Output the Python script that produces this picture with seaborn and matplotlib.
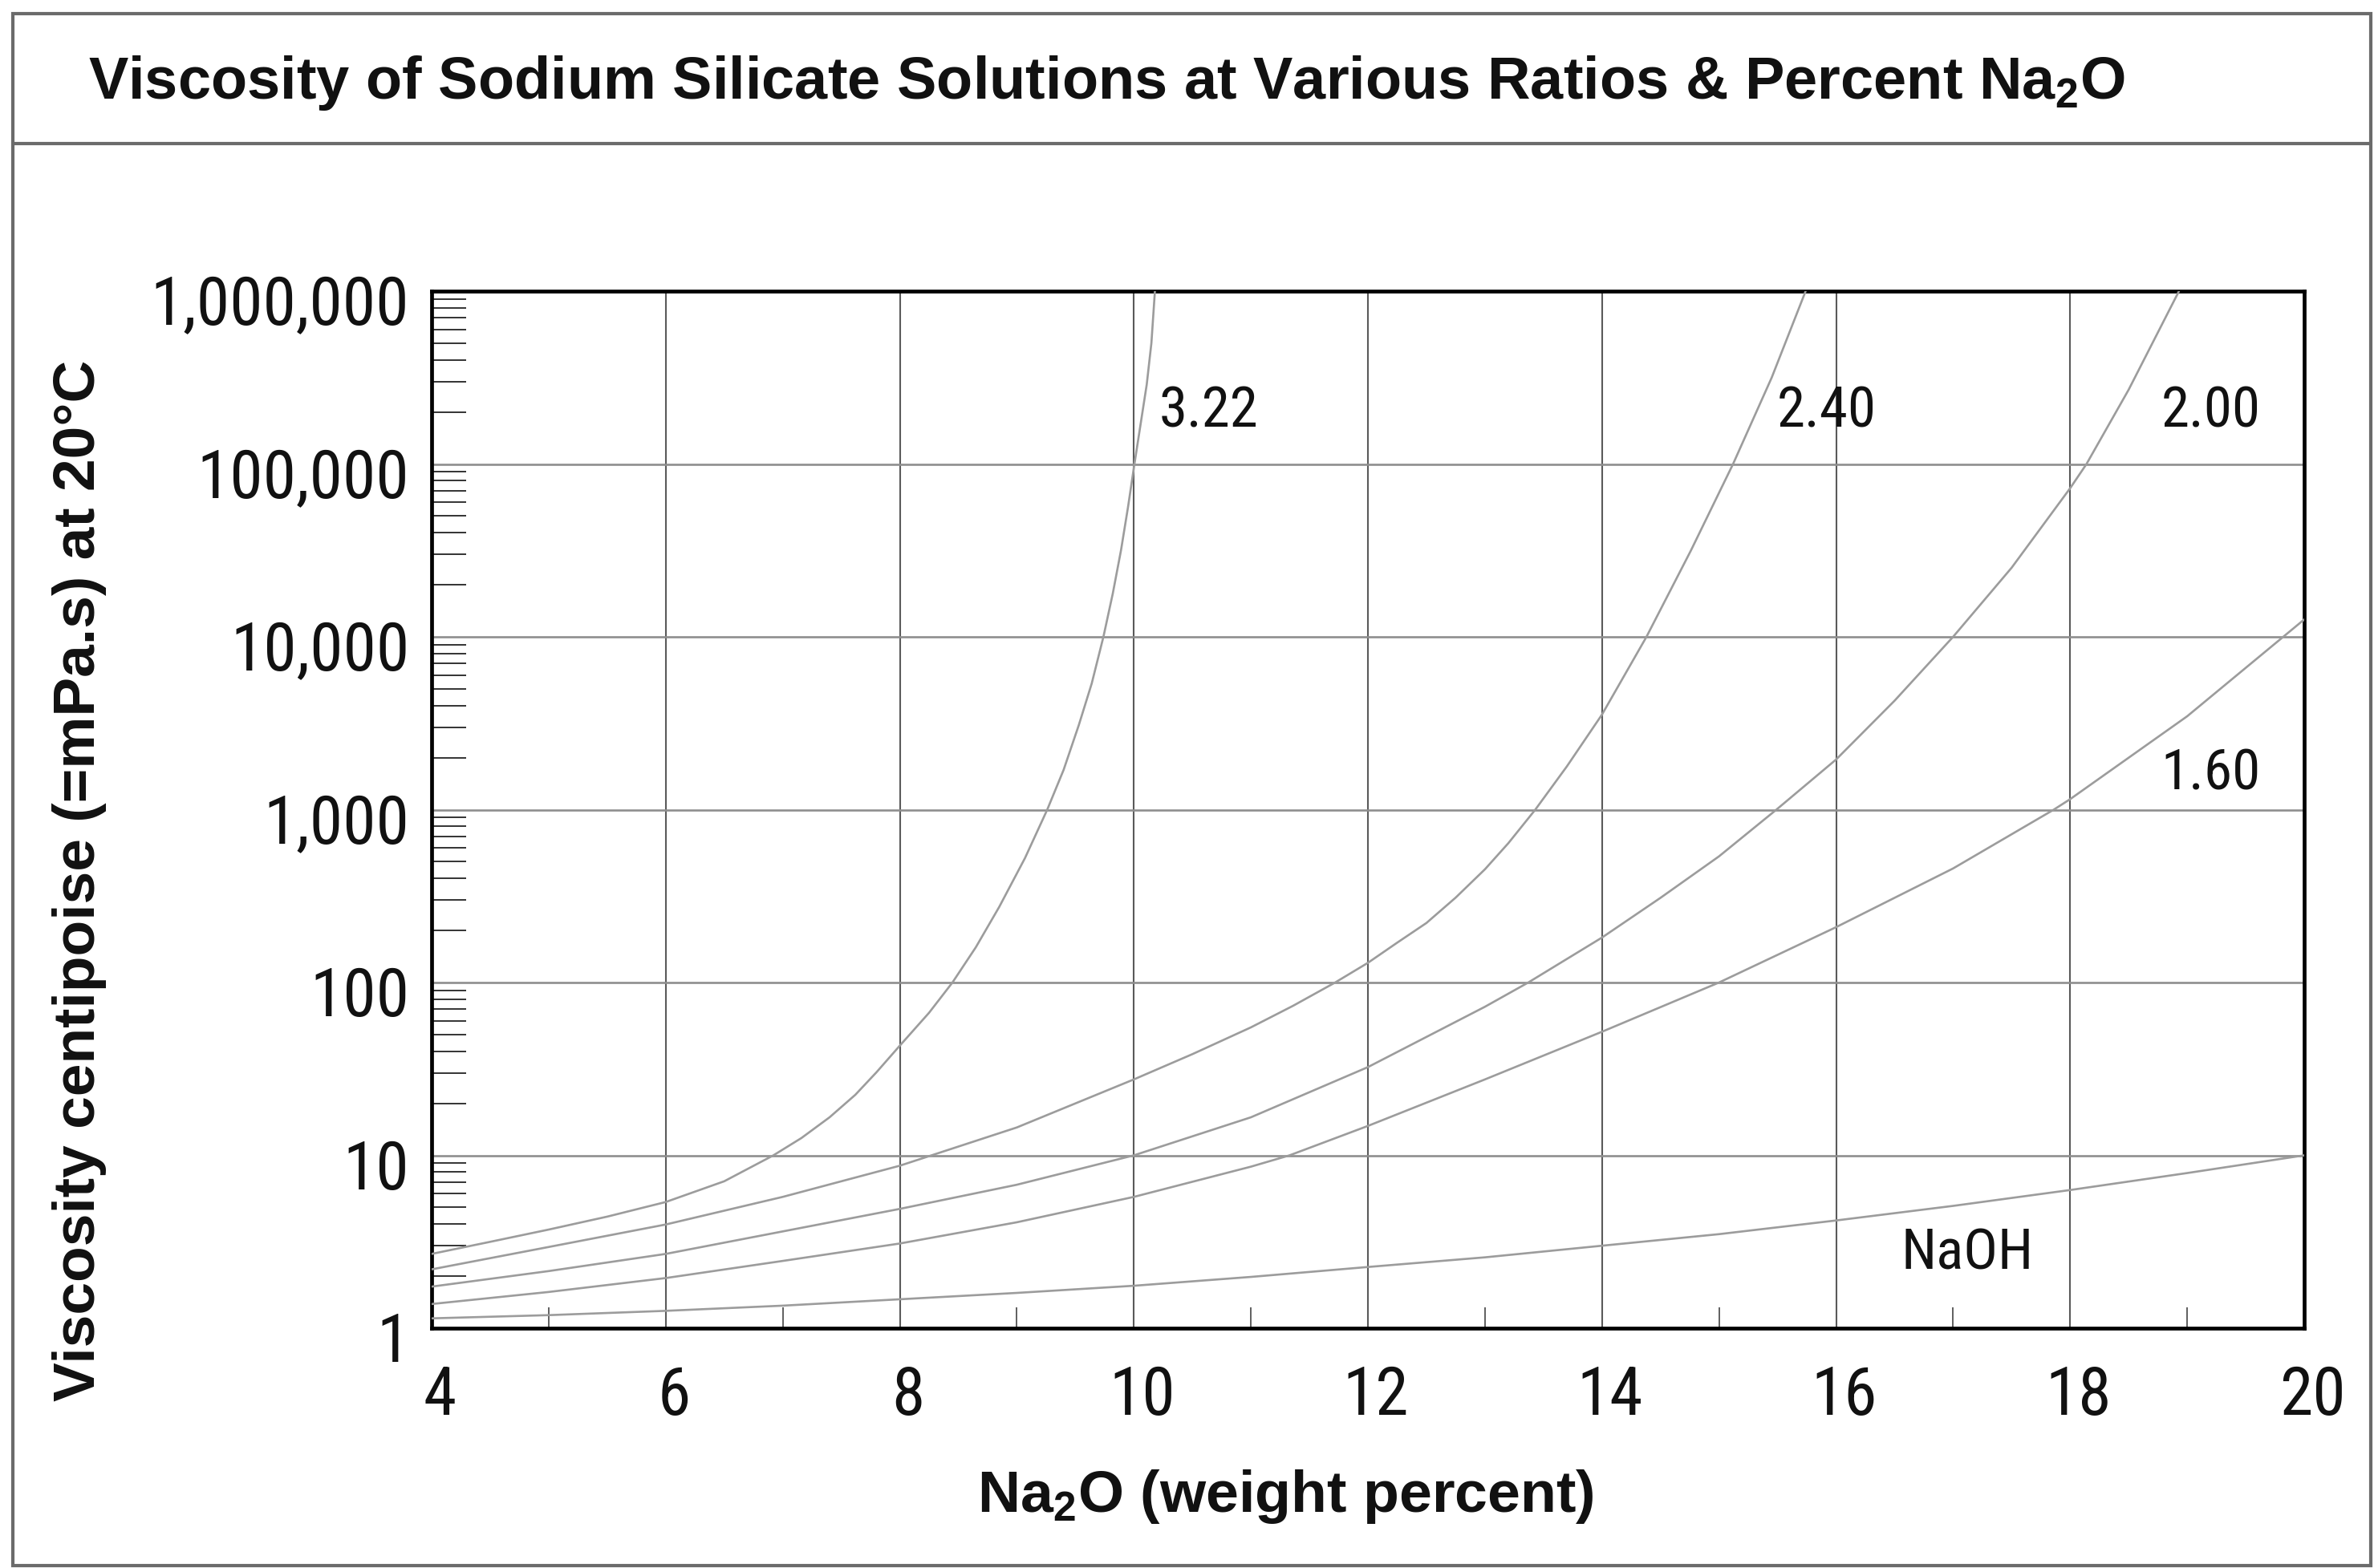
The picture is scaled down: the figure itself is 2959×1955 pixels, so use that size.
import numpy as np
import pandas as pd
import matplotlib
matplotlib.use("Agg")
import matplotlib.pyplot as plt
import matplotlib.transforms as mtransforms
from matplotlib import font_manager as fm
from matplotlib.font_manager import FontProperties
from matplotlib.textpath import TextPath
from matplotlib.ticker import FixedLocator, FixedFormatter, LogLocator, NullFormatter
from matplotlib.patches import Rectangle
from matplotlib.lines import Line2D
import seaborn as sns

# ---------------- data ----------------
x_322 = [4, 4.5, 5, 5.5, 6, 6.5, 6.92, 7.16, 7.4, 7.62, 7.8, 8, 8.25, 8.45, 8.65,
         8.85, 9.07, 9.26, 9.4, 9.53, 9.64, 9.74, 9.82, 9.89, 9.95, 10.005, 10.06,
         10.11, 10.15, 10.18]
v_322 = [2.69, 3.16, 3.72, 4.42, 5.37, 7.08, 10, 12.6, 16.6, 22.4, 30.2, 43.1, 66.8,
         100, 160, 274, 525, 1000, 1700, 3090, 5370, 10000, 17800, 31600, 56200,
         100000, 174000, 288000, 501000, 1000000]

x_240 = [4, 5, 6, 7, 8, 9, 10, 10.5, 11, 11.36, 11.72, 12, 12.25, 12.5, 12.75, 13,
         13.2, 13.43, 13.7, 14, 14.38, 14.76, 15.12, 15.45, 15.74]
v_240 = [2.19, 2.95, 3.98, 5.75, 8.71, 14.5, 27.5, 38.5, 55, 73.3, 100, 130, 170, 221,
         310, 452, 640, 1000, 1780, 3550, 10000, 31600, 100000, 316000, 1000000]

x_200 = [4, 5, 6, 7, 8, 9, 10, 11, 12, 13, 13.37, 14, 14.5, 15, 15.49, 16, 16.5, 17,
         17.5, 18, 18.14, 18.5, 18.93]
v_200 = [1.74, 2.14, 2.69, 3.63, 4.9, 6.76, 10, 16.6, 32.4, 72.4, 100, 182, 309, 537,
         1000, 1950, 4270, 10000, 25100, 72400, 100000, 269000, 1000000]

x_160 = [4, 5, 6, 7, 8, 9, 10, 11, 11.33, 12, 13, 14, 15, 16, 17, 17.86, 18, 19, 20]
v_160 = [1.38, 1.62, 1.95, 2.45, 3.09, 4.1, 5.75, 8.6, 10, 14.8, 27.5, 51.9, 100, 209,
         457, 1000, 1150, 3470, 12600]

x_naoh = [4, 5, 6, 7, 8, 9, 10, 11, 12, 13, 14, 15, 16, 17, 18, 19, 20]
v_naoh = [1.14, 1.19, 1.26, 1.35, 1.47, 1.6, 1.76, 1.98, 2.26, 2.57, 3.0, 3.5, 4.2,
          5.1, 6.3, 7.9, 10]

series_names = ["3.22", "2.40", "2.00", "1.60", "NaOH"]
series_x = [x_322, x_240, x_200, x_160, x_naoh]
series_v = [v_322, v_240, v_200, v_160, v_naoh]

x_major_ticks = [4, 6, 8, 10, 12, 14, 16, 18, 20]
x_minor_ticks = [5, 7, 9, 11, 13, 15, 17, 19]
y_ticks = [1, 10, 100, 1000, 10000, 100000, 1000000]
y_tick_labels = ["1", "10", "100", "1,000", "10,000", "100,000", "1,000,000"]

title_text = "Viscosity of Sodium Silicate Solutions at Various Ratios & Percent Na$_2$O"
xlabel_text = "Na$_2$O (weight percent)"
ylabel_text = "Viscosity centipoise (=mPa.s) at 20\u00b0C"

df = pd.concat(
    [pd.DataFrame({"x": xs, "visc": vs, "ratio": n})
     for n, xs, vs in zip(series_names, series_x, series_v)],
    ignore_index=True,
)

# ---------------- styling ----------------
sns.set_theme(style="white")
plt.rcParams["font.family"] = ["Liberation Sans", "DejaVu Sans"]
plt.rcParams["mathtext.default"] = "regular"

W, H, DPI = 2959, 1956, 200

# pick the installed regular sans font whose proportions best match the
# condensed numerals of the reference ("1,000,000" ink width / digit height ~ 5.0)
allowed = {"Liberation Sans Narrow", "Liberation Sans", "Roboto", "Roboto Condensed",
           "Open Sans", "Open Sans Condensed", "Noto Sans", "DejaVu Sans", "Lato",
           "Inter", "Arimo"}
def _w(w):
    if isinstance(w, str):
        return fm.weight_dict.get(w, 400)
    return w
best = None
for f in fm.fontManager.ttflist:
    if f.name not in allowed or f.style != "normal":
        continue
    if not (350 <= _w(f.weight) <= 450):
        continue
    try:
        fp = FontProperties(fname=f.fname)
        wid = TextPath((0, 0), "1,000,000", prop=fp, size=100).get_extents().width
        hz = TextPath((0, 0), "0", prop=fp, size=100).get_extents().height
    except Exception:
        continue
    score = abs(wid / hz - 5.0)
    if best is None or score < best[0]:
        best = (score, f.fname, hz)
num_fname, zero_h100 = best[1], best[2]

def num_font(digit_px):
    size = digit_px * 72.0 / DPI / (zero_h100 / 100.0)
    return FontProperties(fname=num_fname, size=size)

fig = plt.figure(figsize=(W / DPI, H / DPI), dpi=DPI, facecolor="white")

ax_left, ax_right, ax_top, ax_bottom = 538, 2872, 364, 1657
ax = fig.add_axes([ax_left / W, 1 - ax_bottom / H,
                   (ax_right - ax_left) / W, (ax_bottom - ax_top) / H])

sns.lineplot(data=df, x="x", y="visc", hue="ratio",
             palette={n: "#9c9c9c" for n in series_names},
             legend=False, ax=ax, linewidth=0.95, estimator=None, sort=False,
             zorder=3)

ax.set_yscale("log")
ax.set_xlim(4, 20)
ax.set_ylim(1, 1e6)
ax.set_xlabel("")
ax.set_ylabel("")

ax.xaxis.set_major_locator(FixedLocator(x_major_ticks))
ax.xaxis.set_minor_locator(FixedLocator(x_minor_ticks))
ax.xaxis.set_major_formatter(FixedFormatter([str(t) for t in x_major_ticks]))
ax.yaxis.set_major_locator(FixedLocator(y_ticks))
ax.yaxis.set_major_formatter(FixedFormatter(y_tick_labels))
ax.yaxis.set_minor_locator(LogLocator(base=10, subs=np.arange(2, 10)))
ax.yaxis.set_minor_formatter(NullFormatter())

ax.set_axisbelow(True)
ax.xaxis.grid(True, which="major", color="#5a5a5a", linewidth=0.75)
ax.yaxis.grid(True, which="major", color="#8e8e8e", linewidth=0.95)

for s in ax.spines.values():
    s.set_visible(True)
    s.set_color("black")
    s.set_linewidth(1.7)

ax.tick_params(axis="x", which="major", length=0, pad=16, labelcolor="#111111")
ax.tick_params(axis="x", which="minor", direction="in", length=9.5, width=0.6,
               color="#444444", bottom=True)
ax.tick_params(axis="y", which="major", length=0, pad=10, labelcolor="#111111")
ax.tick_params(axis="y", which="minor", direction="in", length=15.5, width=0.7,
               color="#333333", left=True)

tick_fp = num_font(61)
for lbl in ax.get_xticklabels() + ax.get_yticklabels():
    lbl.set_fontproperties(tick_fp)

# curve labels
label_fp = num_font(52)
label_pos = {"3.22": (10.64, 10 ** 5.31), "2.40": (15.92, 10 ** 5.31),
             "2.00": (19.2, 10 ** 5.31), "1.60": (19.2, 10 ** 3.21),
             "NaOH": (17.12, 10 ** 0.438)}
for n in series_names:
    px, py = label_pos[n]
    ax.text(px, py, n, ha="center", va="center", fontproperties=label_fp,
            color="#111111", zorder=4)

# frame and title band
frame_col = "#6b6b6b"
fig.add_artist(Rectangle((16 / W, 1 - 1953 / H), (2955 - 16) / W, (1953 - 18) / H,
                         transform=fig.transFigure, fill=False,
                         edgecolor=frame_col, linewidth=1.5))
fig.add_artist(Line2D([16 / W, 2955 / W], [1 - 180 / H, 1 - 180 / H],
                      transform=fig.transFigure, color=frame_col, linewidth=1.5))

t_title = fig.text(110 / W, 1 - 123 / H, title_text, ha="left", va="baseline",
                   fontsize=25, fontweight="bold", color="#111111")
t_xlab = fig.text(1602 / W, 1 - 1885 / H, xlabel_text, ha="center", va="baseline",
                  fontsize=25, fontweight="bold", color="#111111")
t_ylab = fig.text(118 / W, 1 - 1098 / H, ylabel_text, ha="center", va="baseline",
                  rotation=90, rotation_mode="anchor",
                  fontsize=25, fontweight="bold", color="#111111")

renderer = fig.canvas.get_renderer()
def fit(t, target, use_height=False):
    bb = t.get_window_extent(renderer)
    cur = bb.height if use_height else bb.width
    t.set_fontsize(t.get_fontsize() * target / cur)

fit(t_title, 2540)
fit(t_xlab, 769)
fit(t_ylab, 1299, use_height=True)

# small offsets of tick labels as in the reference
for lbl in ax.get_yticklabels():
    lbl.set_transform(lbl.get_transform() +
                      mtransforms.ScaledTranslation(0, -10 / DPI, fig.dpi_scale_trans))
for lbl in ax.get_xticklabels():
    lbl.set_transform(lbl.get_transform() +
                      mtransforms.ScaledTranslation(10 / DPI, 0, fig.dpi_scale_trans))

fig.savefig("out.png", dpi=DPI, facecolor="white")
